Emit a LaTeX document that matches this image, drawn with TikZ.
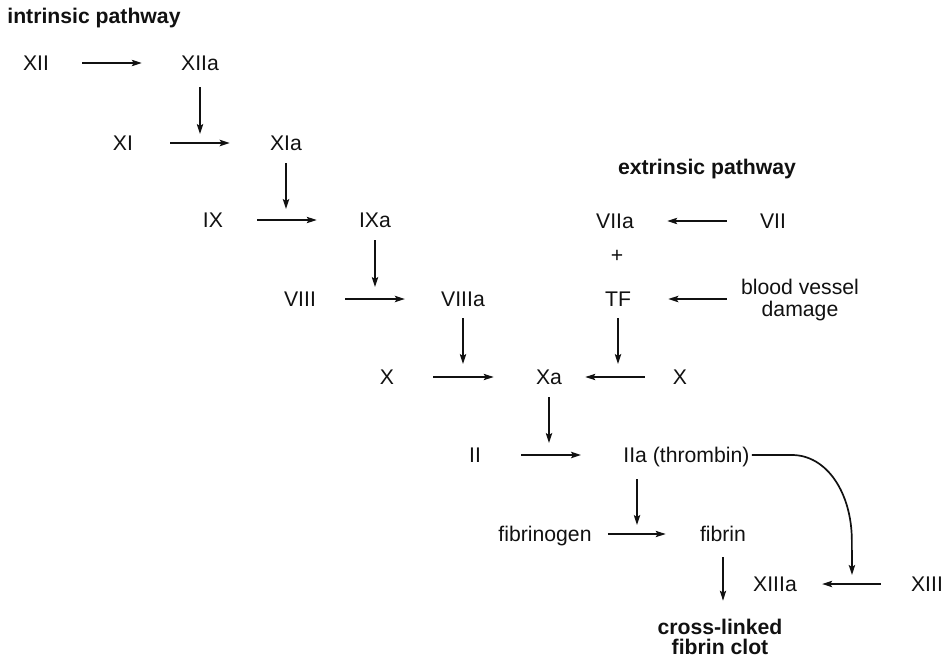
\documentclass[tikz,border=0pt]{standalone}
\usepackage{fontspec}
\setmainfont{Liberation Sans}
\usepackage{tikz}
\usetikzlibrary{arrows.meta, calc}
\definecolor{ink}{HTML}{111111}
\tikzset{
  factor/.style={
    inner sep=0pt, text height=7.6pt, text depth=0pt,
    font=\fontsize{10.6}{12}\selectfont, text=ink
  },
  pathtitle/.style={factor, font=\fontsize{10.6}{12}\selectfont\bfseries},
  twoline/.style={
    inner sep=0pt, align=center,
    font=\fontsize{10.6}{10.2}\selectfont, text=ink
  },
  rxn/.style={-{Stealth[length=5pt, width=3.2pt, inset=1pt]}, line width=0.55pt, draw=ink},
  rxnbold/.style={rxn, line width=0.85pt}
}

\begin{document}
\begin{tikzpicture}[x=0.5pt, y=-0.5pt]
  \useasboundingbox (0,0) rectangle (948,659);

  % intrinsic pathway
  \node[pathtitle, anchor=west] (intr) at (7,16) {intrinsic pathway};
  \node[factor] (xii)   at (36,63)   {XII};
  \node[factor] (xiia)  at (200,63)  {XIIa};
  \node[factor] (xi)    at (123,143) {XI};
  \node[factor] (xia)   at (286,143) {XIa};
  \node[factor] (ix)    at (213,220) {IX};
  \node[factor] (ixa)   at (375,220) {IXa};
  \node[factor] (viii)  at (300,299) {VIII};
  \node[factor] (viiia) at (463,299) {VIIIa};
  \node[factor] (xl)    at (387,377) {X};
  \node[factor] (xa)    at (549,377) {Xa};

  % extrinsic pathway
  \node[pathtitle] (extr) at (707,167) {extrinsic pathway};
  \node[factor] (viia) at (615,221) {VIIa};
  \node[factor] (vii)  at (773,221) {VII};
  \node[factor] (plus) at (617,255) {+};
  \node[factor] (tf)   at (618,299) {TF};
  \node[twoline, font=\fontsize{10.6}{11}\selectfont] (bvd) at (800,300)
    {blood vessel\\damage};
  \node[factor] (xr)   at (680,377) {X};

  % common pathway
  \node[factor] (ii)  at (475,455) {II};
  \node[factor, anchor=west] (iia) at (623,455) {IIa (thrombin)};
  \node[factor] (fbg) at (545,534) {fibrinogen};
  \node[factor] (fib) at (723,534) {fibrin};
  \node[factor] (xiiia) at (775,584) {XIIIa};
  \node[factor] (xiii)  at (927,584) {XIII};
  \node[twoline, font=\fontsize{10.6}{10.2}\selectfont\bfseries] (clot) at (720,637)
    {cross-linked\\fibrin clot};

  % junctions on the reaction arrows
  \coordinate (j1) at (200,143);
  \coordinate (j2) at (286,220);
  \coordinate (j3) at (375,299);
  \coordinate (j4) at (463,377);
  \coordinate (j5) at (618,377);
  \coordinate (j6) at (549,455);
  \coordinate (j7) at (637,534);
  \coordinate (j8) at (852,584);

  \foreach \a/\b/\s/\e in {xii/xiia/16.5/19.5, ix/ixa/17/21,
                           viii/viiia/14.5/18, xl/xa/19.5/21,
                           fbg/fib/8/17, vii/viia/16.5/16.5,
                           xr/xa/14/11.5, xiii/xiiia/15/12.5}{
    \draw[rxn, shorten <=\s pt, shorten >=\e pt] (\a) -- (\b);
  }
  \draw[rxnbold, shorten <=18.5pt, shorten >=20pt] (xi) -- (xia);
  \draw[rxnbold, shorten <=20pt, shorten >=21pt] (ii) -- (iia);
  \draw[rxnbold, shorten <=7pt, shorten >=18.5pt] (bvd.west |- tf) -- (tf);

  \foreach \a/\j/\s/\e in {xiia/j1/8/4.5, ixa/j3/6/6,
                           viiia/j4/5.7/6.5, tf/j5/5.7/6.5, xa/j6/6/6}{
    \draw[rxn, shorten <=\s pt, shorten >=\e pt] (\a) -- (\j);
  }
  \draw[rxnbold, shorten <=6pt, shorten >=5.5pt] (xia) -- (j2);
  \draw[rxn, shorten <=8pt, shorten >=4.5pt] (j7 |- iia.south) -- (j7);
  \draw[rxn, shorten <=7.5pt, shorten >=9pt] (fib) -- (fib |- clot.north);
  \draw[rxnbold, shorten >=4.5pt]
    (iia.east) ++(2,0) -- ++(40,0)
    .. controls +(35,0) and +(0,-48) .. ++(60,86) -- (j8);
\end{tikzpicture}
\end{document}
